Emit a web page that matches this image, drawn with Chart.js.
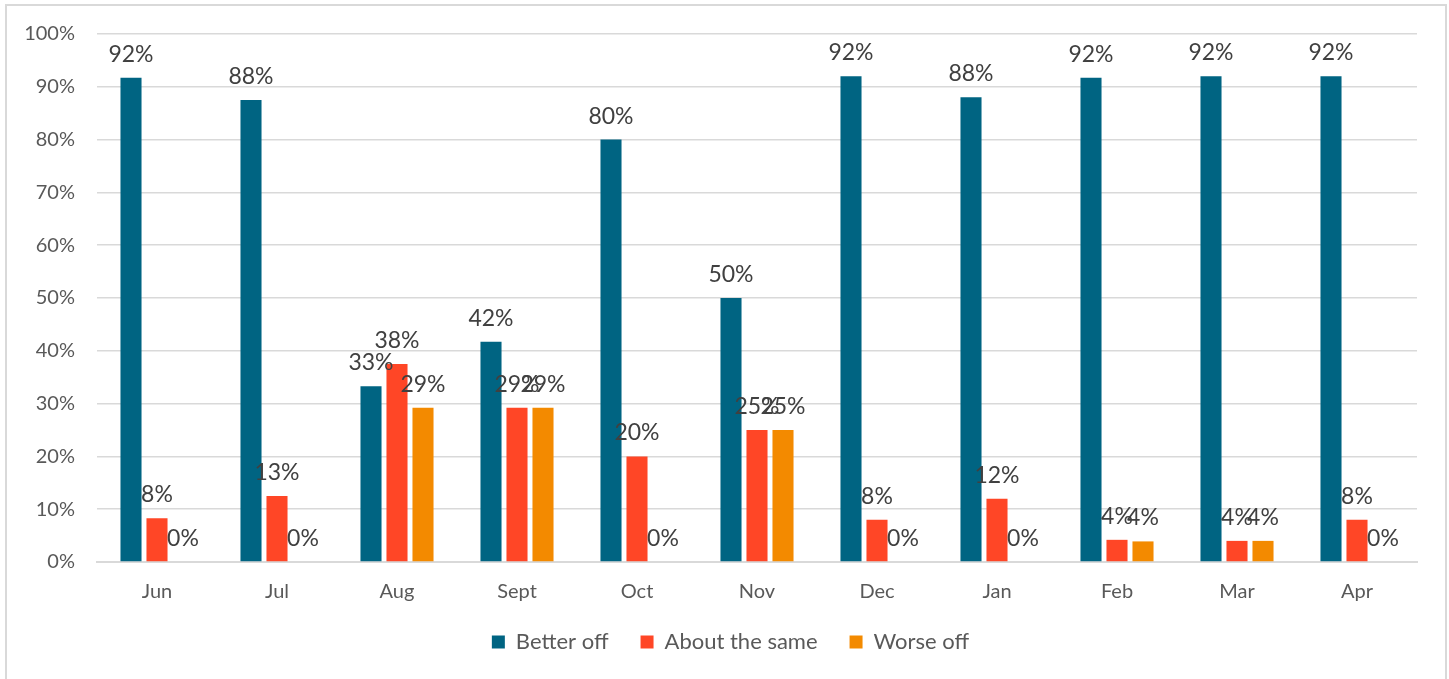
<!DOCTYPE html>
<html>
<head>
<meta charset="utf-8">
<script src="https://cdn.jsdelivr.net/npm/chart.js@4.4.0/dist/chart.umd.min.js"></script>
<style>
	html,body{margin:0;padding:0;background:#fff;overflow:hidden;}
	#frame{position:absolute;left:5px;top:4px;width:1438px;height:700px;border:2px solid #D9D9D9;border-bottom:none;pointer-events:none;}
	#grafica{position:absolute;left:0;top:0;}
</style>
</head>
<body>
<canvas id="grafica" width="1449" height="679"></canvas>
<div id="frame"></div>
<script>
var MESES=["Jun","Jul","Aug","Sept","Oct","Nov","Dec","Jan","Feb","Mar","Apr"];
var BETTER_OFF=[91.7,87.5,33.3,41.7,80,50,92,88,91.7,92,92];
var ABOUT_SAME=[8.3,12.5,37.5,29.2,20,25,8,12,4.2,4,8];
var WORSE_OFF=[0,0,29.2,29.2,0,25,0,0,3.9,4,0];
var Y_TICKS=[0,10,20,30,40,50,60,70,80,90,100];

var FUENTE="Lato, 'Open Sans', sans-serif";

// etiquetas de datos encima de cada barra
var etiquetas={
	id:'etiquetas',
	afterDatasetsDraw:function(chart){
		var ctx=chart.ctx;
		ctx.save();
		ctx.font='23px '+FUENTE;
		ctx.fillStyle='#404040';
		ctx.textAlign='center';
		ctx.textBaseline='alphabetic';
		chart.data.datasets.forEach(function(ds,i){
			var meta=chart.getDatasetMeta(i);
			meta.data.forEach(function(bar,j){
				ctx.fillText(Math.round(ds.data[j])+'%',bar.x,bar.y-16);
			});
		});
		ctx.restore();
	}
};

// la leyenda va centrada en todo el marco, no solo en el area de la grafica
var moverLeyenda={
	id:'moverLeyenda',
	afterLayout:function(chart){
		var lg=chart.legend;
		lg.left+=22; lg.right+=22;
		lg.top-=8; lg.bottom-=8;
	}
};

var config={
	type:'bar',
	data:{
		labels:MESES,
		datasets:[
			{label:'Better off',data:BETTER_OFF,backgroundColor:'#006482'},
			{label:'About the same',data:ABOUT_SAME,backgroundColor:'#FF4626'},
			{label:'Worse off',data:WORSE_OFF,backgroundColor:'#F38A00'}
		]
	},
	options:{
		responsive:false,
		animation:false,
		datasets:{bar:{categoryPercentage:0.65,barPercentage:0.81}},
		layout:{padding:{left:0,right:32,top:33,bottom:8}},
		plugins:{
			legend:{
				position:'bottom',
				labels:{
					boxWidth:13,
					boxHeight:13,
					padding:32,
					color:'#595959',
					font:{family:FUENTE,size:22}
				}
			},
			tooltip:{enabled:false}
		},
		scales:{
			x:{
				grid:{display:false},
				border:{color:'#D9D9D9',width:2},
				ticks:{color:'#595959',padding:10,font:{family:FUENTE,size:20}},
				afterFit:function(scale){scale.height=45;}
			},
			y:{
				min:0,
				max:100,
				afterBuildTicks:function(scale){
					scale.ticks=Y_TICKS.map(function(v){return {value:v};});
				},
				grid:{color:'#D9D9D9',lineWidth:1.5,drawTicks:false},
				border:{display:false},
				ticks:{
					color:'#595959',
					padding:22,
					font:{family:FUENTE,size:20},
					callback:function(v){return v+'%';}
				},
				afterFit:function(scale){scale.width=97;}
			}
		}
	},
	plugins:[etiquetas,moverLeyenda]
};

var canvas=document.getElementById('grafica').getContext('2d');
new Chart(canvas,config);
</script>
</body>
</html>
